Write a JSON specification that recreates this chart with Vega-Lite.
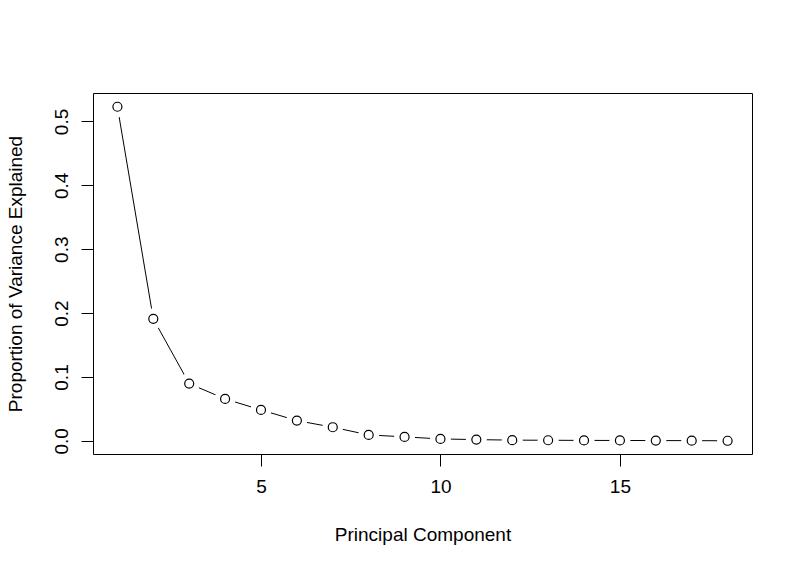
{
  "$schema": "https://vega.github.io/schema/vega-lite/v6.json",
  "description": "Scree plot: proportion of variance explained by each principal component",
  "autosize": "none",
  "width": 659,
  "height": 361,
  "padding": {"left": 93, "top": 93, "right": 48, "bottom": 117},
  "background": "white",
  "config": {
    "font": "Liberation Sans",
    "view": {"stroke": "black", "strokeWidth": 1},
    "axis": {
      "grid": false,
      "domain": false,
      "tickColor": "black",
      "tickSize": 12,
      "tickWidth": 1,
      "labelColor": "black",
      "labelFontSize": 19,
      "labelFont": "Liberation Sans",
      "titleColor": "black",
      "titleFontSize": 19,
      "titleFont": "Liberation Sans",
      "titleFontWeight": "normal"
    }
  },
  "data": {
    "values": [
      {"PC": 1, "PVE": 0.523},
      {"PC": 2, "PVE": 0.191},
      {"PC": 3, "PVE": 0.0897},
      {"PC": 4, "PVE": 0.0657},
      {"PC": 5, "PVE": 0.0485},
      {"PC": 6, "PVE": 0.0318},
      {"PC": 7, "PVE": 0.0214},
      {"PC": 8, "PVE": 0.0094},
      {"PC": 9, "PVE": 0.0063},
      {"PC": 10, "PVE": 0.0031},
      {"PC": 11, "PVE": 0.002},
      {"PC": 12, "PVE": 0.0012},
      {"PC": 13, "PVE": 0.001},
      {"PC": 14, "PVE": 0.0008},
      {"PC": 15, "PVE": 0.0007},
      {"PC": 16, "PVE": 0.0005},
      {"PC": 17, "PVE": 0.0004},
      {"PC": 18, "PVE": 0.0002}
    ]
  },
  "encoding": {
    "x": {
      "field": "PC",
      "type": "quantitative",
      "title": "Principal Component",
      "scale": {"domain": [0.32, 18.68], "nice": false, "zero": false},
      "axis": {"values": [5, 10, 15], "labelPadding": 11, "titlePadding": 29}
    },
    "y": {
      "field": "PVE",
      "type": "quantitative",
      "title": "Proportion of Variance Explained",
      "scale": {"domain": [-0.0205, 0.5445], "nice": false, "zero": false},
      "axis": {
        "values": [0, 0.1, 0.2, 0.3, 0.4, 0.5],
        "format": ".1f",
        "labelAngle": 270,
        "labelAlign": "center",
        "labelBaseline": "bottom",
        "labelPadding": 10,
        "titlePadding": 27
      }
    }
  },
  "layer": [
    {"mark": {"type": "line", "color": "black", "strokeWidth": 1}},
    {"mark": {"type": "point", "shape": "circle", "filled": true, "color": "white", "size": 441, "opacity": 1}},
    {"mark": {"type": "point", "shape": "circle", "fill": "white", "stroke": "black", "strokeWidth": 1.2, "size": 81, "opacity": 1}}
  ]
}
